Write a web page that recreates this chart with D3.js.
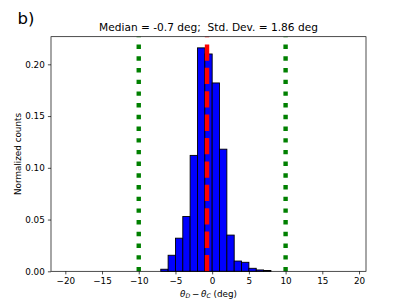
<!DOCTYPE html>
<html>
<head>
<meta charset="utf-8">
<script src="https://cdn.jsdelivr.net/npm/d3@7"></script>
<style>
  body { margin: 0; background: #fff; }
  text { font-family: "DejaVu Sans", sans-serif; fill: #000; }
</style>
</head>
<body>
<div id="chart"></div>
<script>
// histogram bins (left edge, width 1 deg) and normalized counts
var binLeft = [-7, -6, -5, -4, -3, -2, -1, 0, 1, 2, 3, 4, 5, 6, 7];
var counts = [0.002, 0.0155, 0.032, 0.053, 0.112, 0.2159, 0.210, 0.182, 0.118, 0.035, 0.0099, 0.0087, 0.0029, 0.0013, 0.0008];
var median = -0.7;
var limits = [-10, 10];
var xTicks = [-20, -15, -10, -5, 0, 5, 10, 15, 20];
var yTicks = [0, 0.05, 0.10, 0.15, 0.20];

var W = 407, H = 305;
var margin = { top: 36.7, right: 41, bottom: 33.7, left: 51 },
    width = W - margin.left - margin.right,
    height = H - margin.top - margin.bottom;

var svg = d3.select("#chart").append("svg")
    .attr("width", W)
    .attr("height", H);

var g = svg.append("g")
    .attr("transform", "translate(" + margin.left + "," + margin.top + ")");

// matplotlib autoscale: bins -20..19 plus 5% margins
var x = d3.scaleLinear().domain([-21.95, 20.95]).range([0, width]);
var y = d3.scaleLinear().domain([0, d3.max(counts) * 1.05]).range([height, 0]);

g.selectAll("rect.bar")
    .data(counts)
    .enter().append("rect")
    .attr("class", "bar")
    .attr("x", function(d, i) { return x(binLeft[i]); })
    .attr("width", function(d, i) { return x(binLeft[i] + 1) - x(binLeft[i]); })
    .attr("y", function(d) { return y(d); })
    .attr("height", function(d) { return y(0) - y(d); })
    .style("fill", "#0000ff")
    .style("stroke", "#000")
    .style("stroke-width", 0.9);

// vertical lines drawn bottom-up so dashes start at the axis
g.selectAll("line.lim")
    .data(limits)
    .enter().append("line")
    .attr("class", "lim")
    .attr("x1", function(d) { return x(d); })
    .attr("x2", function(d) { return x(d); })
    .attr("y1", height)
    .attr("y2", 0)
    .style("stroke", "#008000")
    .style("stroke-width", 4.4)
    .style("stroke-dasharray", "4.4,7.3");

g.append("line")
    .attr("x1", x(median))
    .attr("x2", x(median))
    .attr("y1", height)
    .attr("y2", 0)
    .style("stroke", "#ff0000")
    .style("stroke-width", 4.4)
    .style("stroke-dasharray", "16.3,7.1");

// axes
var fmt = function(d) { return d < 0 ? "\u2212" + Math.abs(d) : String(d); };
var xAxis = g.append("g")
    .attr("transform", "translate(0," + height + ")")
    .call(d3.axisBottom(x).tickValues(xTicks).tickFormat(fmt).tickSize(3.1).tickPadding(3.1));
var yAxis = g.append("g")
    .call(d3.axisLeft(y).tickValues(yTicks).tickFormat(d3.format(".2f")).tickSize(3.1).tickPadding(3.1));

[xAxis, yAxis].forEach(function(a) {
    a.select(".domain").remove();
    a.selectAll("line").style("stroke", "#000").style("stroke-width", 0.7);
    a.selectAll("text").style("font-family", "DejaVu Sans").style("font-size", "8.8px");
});

g.append("rect")
    .attr("width", width)
    .attr("height", height)
    .style("fill", "none")
    .style("stroke", "#000")
    .style("stroke-width", 0.7);

// labels
svg.append("text")
    .attr("x", margin.left + width / 2)
    .attr("y", 30.6)
    .attr("text-anchor", "middle")
    .style("font-size", "10.6px")
    .text("Median = -0.7 deg;  Std. Dev. = 1.86 deg")
    .attr("xml:space", "preserve");

svg.append("text")
    .attr("x", 17.5)
    .attr("y", 24.3)
    .style("font-size", "16.5px")
    .text("b)");

svg.append("text")
    .attr("transform", "translate(17.5," + (margin.top + height / 2) + ") rotate(-90)")
    .attr("text-anchor", "middle")
    .attr("dy", "0.35em")
    .style("font-size", "8.8px")
    .text("Normalized counts");

var xl = svg.append("text")
    .attr("x", margin.left + width / 2)
    .attr("y", 296.5)
    .attr("text-anchor", "middle")
    .style("font-size", "8.8px");
xl.append("tspan").style("font-style", "italic").text("\u03b8");
xl.append("tspan").attr("dy", 1.8).style("font-size", "6.2px").style("font-style", "italic").text("D");
xl.append("tspan").attr("dy", -1.8).text("\u2009\u2212\u2009");
xl.append("tspan").style("font-style", "italic").text("\u03b8");
xl.append("tspan").attr("dy", 1.8).style("font-size", "6.2px").style("font-style", "italic").text("C");
xl.append("tspan").attr("dy", -1.8).text(" (deg)");
</script>
</body>
</html>
